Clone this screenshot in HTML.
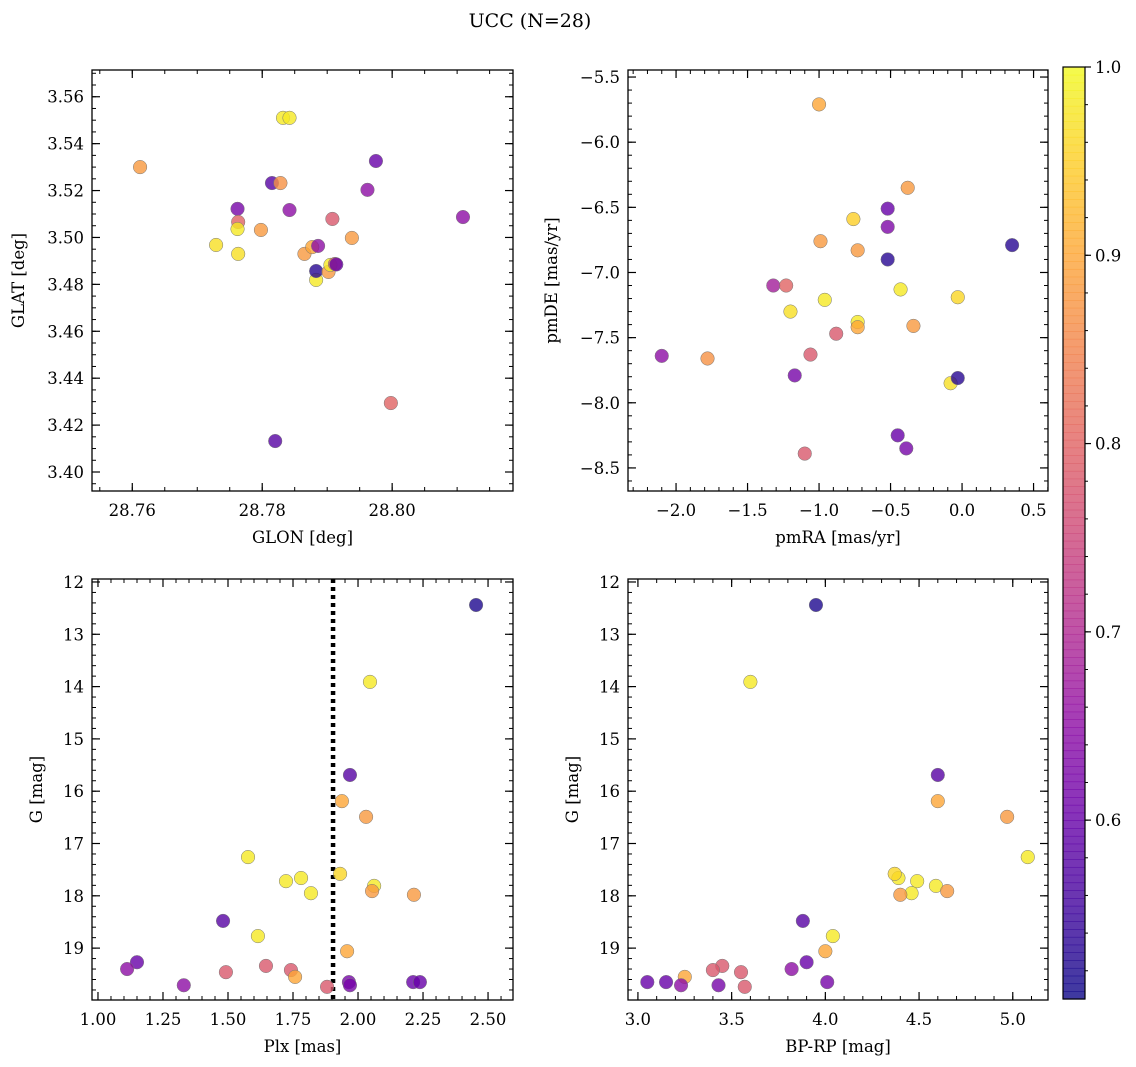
<!DOCTYPE html>
<html><head><meta charset="utf-8">
<style>
html,body{margin:0;padding:0;background:#fff;}
svg{display:block;font-family:"DejaVu Serif","Liberation Serif",serif;}
</style></head>
<body>
<svg id="fig" width="1136" height="1067" viewBox="0 0 1136 1067">
<text x="530" y="27" font-size="19" text-anchor="middle">UCC (N=28)</text>
</svg>
<script>
// ---- data ----
const glon = [28.7612,28.7729,28.7762,28.7763,28.7762,28.7763,28.7798,28.7815,28.7828,28.7832,28.7842,28.7842,28.7865,28.7877,28.7883,28.7883,28.7886,28.7902,28.7905,28.7908,28.7912,28.7914,28.7938,28.7962,28.7975,28.7998,28.8109,28.7820];
const glat = [3.530,3.4968,3.5122,3.5066,3.5036,3.4930,3.5032,3.5232,3.5232,3.551,3.551,3.5117,3.4930,3.4959,3.4819,3.4857,3.4964,3.4853,3.4883,3.5079,3.4887,3.4885,3.4998,3.5203,3.5326,3.4294,3.5087,3.4132];
const probTL = [0.88,0.97,0.62,0.80,0.98,0.97,0.88,0.58,0.87,0.98,0.98,0.65,0.88,0.90,0.98,0.53,0.65,0.88,0.98,0.78,0.80,0.60,0.88,0.65,0.60,0.80,0.65,0.58];

const pmra = [-1.00,-0.38,-0.52,-0.52,-0.52,-0.99,-0.76,-0.73,0.35,-1.32,-1.23,-1.20,-0.96,-0.43,-0.03,-0.73,-0.73,-0.34,-0.88,-1.06,-2.10,-1.78,-1.17,-0.08,-0.03,-1.10,-0.45,-0.39];
const pmde = [-5.71,-6.35,-6.51,-6.65,-6.90,-6.76,-6.59,-6.83,-6.79,-7.10,-7.10,-7.30,-7.21,-7.13,-7.19,-7.38,-7.42,-7.41,-7.47,-7.63,-7.64,-7.66,-7.79,-7.85,-7.81,-8.39,-8.25,-8.35];
const probTR = [0.90,0.88,0.60,0.63,0.53,0.88,0.95,0.88,0.53,0.68,0.80,0.97,0.98,0.98,0.96,0.98,0.90,0.88,0.78,0.78,0.65,0.87,0.62,0.97,0.53,0.78,0.60,0.62];

const plx = [2.454,2.046,1.969,1.938,2.031,1.577,1.781,1.723,1.931,1.819,2.062,2.054,2.215,1.481,1.615,1.958,1.150,1.112,1.492,1.646,1.742,1.758,1.965,1.969,1.881,1.330,2.212,2.238];
const gmag = [12.44,13.91,15.69,16.19,16.49,17.26,17.66,17.72,17.58,17.95,17.81,17.91,17.98,18.48,18.77,19.06,19.27,19.40,19.46,19.34,19.42,19.55,19.65,19.71,19.74,19.71,19.65,19.65];
const bprp = [3.95,3.60,4.60,4.60,4.97,5.08,4.39,4.49,4.37,4.46,4.59,4.65,4.40,3.88,4.04,4.00,3.90,3.82,3.55,3.45,3.40,3.25,4.01,3.43,3.57,3.23,3.05,3.15];
const probB = [0.52,0.98,0.58,0.90,0.88,0.98,0.98,0.98,0.96,0.98,0.98,0.88,0.88,0.58,0.98,0.90,0.60,0.65,0.78,0.78,0.78,0.90,0.62,0.62,0.78,0.65,0.60,0.60];
const plxLine = 1.904;
const cbTicks = [0.6,0.7,0.8,0.9,1.0];
const cbMin = 0.505, cbMax = 1.0;

// ---- plasma ----
const stops = ["#0d0887","#41049d","#6a00a8","#8f0da4","#b12a90","#cc4778","#e16462","#f2844b","#fca636","#fcce25","#f0f921"];
function hex(h){return [parseInt(h.slice(1,3),16),parseInt(h.slice(3,5),16),parseInt(h.slice(5,7),16)];}
function plasma(t){t=Math.max(0,Math.min(1,t));const f=t*10,i=Math.min(9,Math.floor(f)),u=f-i;const a=hex(stops[i]),b=hex(stops[i+1]);
 return `rgb(${a.map((v,k)=>Math.round(v+(b[k]-v)*u)).join(',')})`;}
function pcol(p){return plasma((p-cbMin)/(cbMax-cbMin));}

const NS="http://www.w3.org/2000/svg";
const svg=document.getElementById('fig');
function mk(tag,attrs,parent){const e=document.createElementNS(NS,tag);for(const k in attrs)e.setAttribute(k,attrs[k]);(parent||svg).appendChild(e);return e;}
function fmt(v,d){return v.toFixed(d).replace('-','\u2212');}
function ticks(d,step){const lo=Math.min(d[0],d[1]),hi=Math.max(d[0],d[1]);const r=[];for(let k=Math.ceil(lo/step-1e-6);k*step<=hi+1e-9;k++)r.push(+(k*step).toFixed(6));return r;}

function panel(o){
 const g=mk('g',{});
 
 
 const sx=v=>o.x0+(v-o.xd[0])/(o.xd[1]-o.xd[0])*(o.x1-o.x0);
 const sy=v=>o.y1-(v-o.yd[0])/(o.yd[1]-o.yd[0])*(o.y1-o.y0);
 ticks(o.xd,o.xmin).forEach(v=>{const x=sx(v);mk('line',{x1:x,x2:x,y1:o.y1,y2:o.y1-4,stroke:'#000','stroke-width':1},g);mk('line',{x1:x,x2:x,y1:o.y0,y2:o.y0+4,stroke:'#000','stroke-width':1},g);});
 ticks(o.yd,o.ymin).forEach(v=>{const y=sy(v);mk('line',{x1:o.x0,x2:o.x0+4,y1:y,y2:y,stroke:'#000','stroke-width':1},g);mk('line',{x1:o.x1,x2:o.x1-4,y1:y,y2:y,stroke:'#000','stroke-width':1},g);});
 ticks(o.xd,o.xmaj).forEach(v=>{const x=sx(v);mk('line',{x1:x,x2:x,y1:o.y1,y2:o.y1-8,stroke:'#000','stroke-width':1.2},g);mk('line',{x1:x,x2:x,y1:o.y0,y2:o.y0+8,stroke:'#000','stroke-width':1.2},g);
  const t=mk('text',{x:x,y:o.y1+25,'font-size':16.5,'text-anchor':'middle'},g);t.textContent=fmt(v,o.xdec);
  
  });
 ticks(o.yd,o.ymaj).forEach(v=>{const y=sy(v);mk('line',{x1:o.x0,x2:o.x0+8,y1:y,y2:y,stroke:'#000','stroke-width':1.2},g);mk('line',{x1:o.x1,x2:o.x1-8,y1:y,y2:y,stroke:'#000','stroke-width':1.2},g);
  const t=mk('text',{x:o.x0-8,y:y+6,'font-size':16.5,'text-anchor':'end'},g);t.textContent=fmt(v,o.ydec);
  
  });
 if(o.vline!==undefined){const x=sx(o.vline);const l=mk('line',{x1:x,x2:x,y1:o.y0,y2:o.y1,stroke:'#000','stroke-width':4.5,'stroke-dasharray':'4,4'},g);
  
  }
 o.xs.forEach((_,i)=>{const c=mk('circle',{cx:sx(o.xs[i]),cy:sy(o.ys[i]),r:6.8,fill:pcol(o.ps[i]),'fill-opacity':0.8,stroke:'#777','stroke-width':0.5},g);
  
  });
 mk('rect',{x:o.x0,y:o.y0,width:o.x1-o.x0,height:o.y1-o.y0,fill:'none',stroke:'#000','stroke-width':1.3},g);
 const xl=mk('text',{x:(o.x0+o.x1)/2,y:o.y1+52,'font-size':16.5,'text-anchor':'middle'},g);xl.textContent=o.xlab;
 
 
 const yx=o.ylx,yy=(o.y0+o.y1)/2;
 const yl=mk('text',{x:yx,y:yy,'font-size':16.5,'text-anchor':'middle',transform:`rotate(-90 ${yx} ${yy})`},g);yl.textContent=o.ylab;
 
 
}

panel({name:'glon-glat-panel',x0:92,x1:513,y0:70,y1:491,xd:[28.7538,28.8186],yd:[3.3919,3.5714],xmaj:0.02,xmin:0.005,ymaj:0.02,ymin:0.005,xdec:2,ydec:2,xs:glon,ys:glat,ps:probTL,xlab:'GLON [deg]',ylab:'GLAT [deg]',ylx:24});
panel({name:'pm-panel',x0:628,x1:1048,y0:70,y1:491,xd:[-2.336,0.601],yd:[-8.677,-5.446],xmaj:0.5,xmin:0.1,ymaj:0.5,ymin:0.1,xdec:1,ydec:1,xs:pmra,ys:pmde,ps:probTR,xlab:'pmRA [mas/yr]',ylab:'pmDE [mas/yr]',ylx:557});
panel({name:'plx-g-panel',x0:92,x1:513,y0:579,y1:1000,xd:[0.977,2.596],yd:[19.992,11.943],xmaj:0.25,xmin:0.05,ymaj:1,ymin:0.2,xdec:2,ydec:0,xs:plx,ys:gmag,ps:probB,xlab:'Plx [mas]',ylab:'G [mag]',ylx:42,vline:plxLine});
panel({name:'cmd-panel',x0:628,x1:1048,y0:579,y1:1000,xd:[2.947,5.188],yd:[19.992,11.943],xmaj:0.5,xmin:0.1,ymaj:1,ymin:0.2,xdec:1,ydec:0,xs:bprp,ys:gmag,ps:probB,xlab:'BP-RP [mag]',ylab:'G [mag]',ylx:578});

// ---- colorbar ----
(function(){
 const cx0=1063,cx1=1085,cy0=67,cy1=999;
 const g=mk('g',{});
 
 
 const sy=v=>cy1-(v-cbMin)/(cbMax-cbMin)*(cy1-cy0);
 const n=120;
 for(let i=0;i<n;i++){const y0=cy0+(cy1-cy0)*i/n;const p=cbMax-(cbMax-cbMin)*(i+0.5)/n;
  mk('rect',{x:cx0,y:y0,width:cx1-cx0,height:(cy1-cy0)/n+0.6,fill:pcol(p),'fill-opacity':0.8},g);}
 ticks([cbMin,cbMax],0.02).forEach(v=>{const y=sy(v);mk('line',{x1:cx1,x2:cx1+3,y1:y,y2:y,stroke:'#000','stroke-width':1},g);});
 cbTicks.forEach(v=>{const y=sy(v);mk('line',{x1:cx1,x2:cx1+6,y1:y,y2:y,stroke:'#000','stroke-width':1.2},g);
  const t=mk('text',{x:cx1+10,y:y+6,'font-size':16.5},g);t.textContent=v.toFixed(1);
  
  });
 mk('rect',{x:cx0,y:cy0,width:cx1-cx0,height:cy1-cy0,fill:'none',stroke:'#000','stroke-width':1.2},g);
})();
</script>
</body></html>
